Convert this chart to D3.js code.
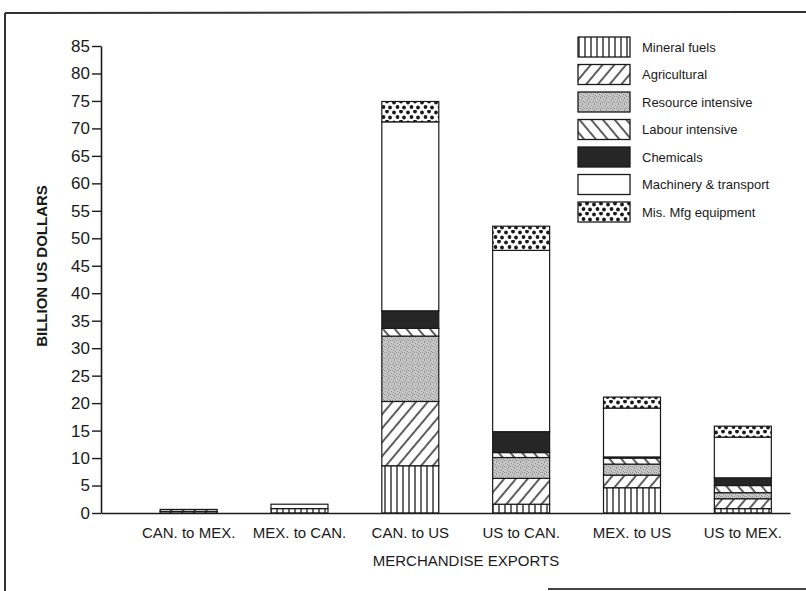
<!DOCTYPE html>
<html>
<head>
<meta charset="utf-8">
<script src="https://cdn.jsdelivr.net/npm/d3@7"></script>
<style>
  body { margin: 0; background: #fff; }
  svg { display: block; font-family: "Liberation Sans", Arial, sans-serif; }
</style>
</head>
<body>
<svg id="chart" width="806" height="591"></svg>
<script>
// Merchandise exports by category, billion US dollars
const routes = ["CAN. to MEX.", "MEX. to CAN.", "CAN. to US", "US to CAN.", "MEX. to US", "US to MEX."];
const categories = ["Mineral fuels", "Agricultural", "Resource intensive", "Labour intensive",
  "Chemicals", "Machinery & transport", "Mis. Mfg equipment"];

const mineralFuels = [0, 0.8, 8.6, 1.6, 4.6, 0.8];
const agricultural = [0.3, 0, 11.7, 4.7, 2.3, 1.8];
const resourceIntensive = [0, 0, 11.9, 3.8, 2.0, 1.1];
const labourIntensive = [0.35, 0, 1.4, 0.9, 1.1, 1.3];
const chemicals = [0, 0, 3.2, 3.8, 0.2, 1.4];
const machinery = [0, 0.8, 34.4, 33.0, 8.9, 7.4];
const misMfg = [0, 0, 3.7, 4.4, 2.0, 2.0];

const yTicks = d3.range(0, 90, 5);

const series = [mineralFuels, agricultural, resourceIntensive, labourIntensive, chemicals, machinery, misMfg];
const fills = ["url(#p-min)", "url(#p-agr)", "url(#p-res)", "url(#p-lab)", "#262626", "#fff", "url(#p-mis)"];

const rows = routes.map((r, i) => {
  const row = { route: r };
  categories.forEach((c, j) => (row[c] = series[j][i]));
  return row;
});

const svg = d3.select("#chart");
const ink = "#1a1a1a";

// patterns
const defs = svg.append("defs");
const pMin = defs.append("pattern").attr("id", "p-min").attr("patternUnits", "userSpaceOnUse")
  .attr("width", 6).attr("height", 10);
pMin.append("rect").attr("width", 6).attr("height", 10).attr("fill", "#fff");
pMin.append("line").attr("x1", 1).attr("x2", 1).attr("y1", 0).attr("y2", 10).attr("stroke", ink).attr("stroke-width", 1.3);

const pAgr = defs.append("pattern").attr("id", "p-agr").attr("patternUnits", "userSpaceOnUse")
  .attr("width", 9).attr("height", 9).attr("patternTransform", "rotate(40)");
pAgr.append("rect").attr("width", 9).attr("height", 9).attr("fill", "#fff");
pAgr.append("line").attr("x1", 1).attr("x2", 1).attr("y1", 0).attr("y2", 9).attr("stroke", ink).attr("stroke-width", 1.4);

const pLab = defs.append("pattern").attr("id", "p-lab").attr("patternUnits", "userSpaceOnUse")
  .attr("width", 9).attr("height", 9).attr("patternTransform", "rotate(-40)");
pLab.append("rect").attr("width", 9).attr("height", 9).attr("fill", "#fff");
pLab.append("line").attr("x1", 1).attr("x2", 1).attr("y1", 0).attr("y2", 9).attr("stroke", ink).attr("stroke-width", 1.4);

const pRes = defs.append("pattern").attr("id", "p-res").attr("patternUnits", "userSpaceOnUse")
  .attr("width", 6).attr("height", 6);
pRes.append("rect").attr("width", 6).attr("height", 6).attr("fill", "#c6c6c6");
[[1, 1], [4, 0], [3, 2], [0, 4], [2, 4], [5, 3], [4, 5]].forEach(([x, y]) =>
  pRes.append("rect").attr("x", x).attr("y", y).attr("width", 1).attr("height", 1).attr("fill", "#8f8f8f"));

const pMis = defs.append("pattern").attr("id", "p-mis").attr("patternUnits", "userSpaceOnUse")
  .attr("width", 14).attr("height", 10);
pMis.append("rect").attr("width", 14).attr("height", 10).attr("fill", "#fff");
[[2, 2.5], [9, 1.5], [5.5, 7], [12, 7.5]].forEach(([x, y]) =>
  pMis.append("circle").attr("cx", x).attr("cy", y).attr("r", 1.9).attr("fill", ink));

// frame (scan border)
svg.append("line").attr("x1", 5).attr("x2", 806).attr("y1", 13).attr("y2", 12).attr("stroke", "#333").attr("stroke-width", 2);
svg.append("line").attr("x1", 5).attr("x2", 5).attr("y1", 13).attr("y2", 591).attr("stroke", "#333").attr("stroke-width", 2);
svg.append("line").attr("x1", 548).attr("x2", 806).attr("y1", 589).attr("y2", 589).attr("stroke", "#444").attr("stroke-width", 2);

const x = d3.scaleBand().domain(routes).range([101, 790])
  .paddingInner(0.486).paddingOuter(0.351).align(0.76);
const y = d3.scaleLinear().domain([0, 85]).range([513, 46]);

const stack = d3.stack().keys(categories)(rows);

svg.append("g").selectAll("g").data(stack).join("g")
  .attr("fill", (d, i) => fills[i])
  .selectAll("rect").data(d => d.filter(s => s[1] - s[0] > 0)).join("rect")
  .attr("x", d => x(d.data.route))
  .attr("width", x.bandwidth())
  .attr("y", d => y(d[1]))
  .attr("height", d => y(d[0]) - y(d[1]))
  .attr("stroke", ink).attr("stroke-width", 1.2);

// y axis
const yAxis = svg.append("g").attr("transform", `translate(${x.range()[0]},0)`)
  .call(d3.axisLeft(y).tickValues(yTicks).tickSize(9).tickPadding(2).tickSizeOuter(0));
yAxis.select(".domain").attr("stroke", ink).attr("stroke-width", 1.6);
yAxis.selectAll(".tick line").attr("stroke", ink).attr("stroke-width", 1.4);
yAxis.selectAll(".tick text").attr("font-size", 17).attr("fill", ink).attr("font-family", "Liberation Sans, Arial, sans-serif");

// x axis
const xAxis = svg.append("g").attr("transform", `translate(0,${y(0)})`)
  .call(d3.axisBottom(x).tickSize(0).tickPadding(14));
xAxis.select(".domain").attr("stroke", ink).attr("stroke-width", 1.6);
xAxis.selectAll(".tick text").attr("font-size", 15).attr("fill", ink).attr("font-family", "Liberation Sans, Arial, sans-serif");

svg.append("text").attr("x", 466).attr("y", 566).attr("text-anchor", "middle")
  .attr("font-size", 15).attr("fill", ink).text("MERCHANDISE EXPORTS");

svg.append("text").attr("transform", "translate(47,266) rotate(-90)").attr("text-anchor", "middle")
  .attr("font-size", 15).attr("font-weight", "bold").attr("fill", ink).text("BILLION US DOLLARS");

// legend
const legend = svg.append("g").attr("transform", "translate(578,37)");
const item = legend.selectAll("g").data(categories).join("g")
  .attr("transform", (d, i) => `translate(0,${i * 27.5})`);
item.append("rect").attr("width", 52).attr("height", 20)
  .attr("fill", (d, i) => fills[i]).attr("stroke", ink).attr("stroke-width", 1.3);
item.append("text").attr("x", 64).attr("y", 10).attr("dy", "0.35em")
  .attr("font-size", 13).attr("fill", ink).text(d => d);
</script>
</body>
</html>
